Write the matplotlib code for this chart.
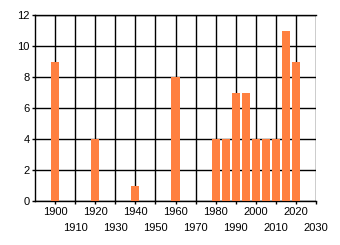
import matplotlib
matplotlib.use("Agg")
import matplotlib.pyplot as plt
from matplotlib.ticker import FixedLocator, FixedFormatter

years = [1900, 1920, 1940, 1960, 1980, 1985, 1990, 1995, 2000, 2005, 2010, 2015, 2020]
counts = [9, 4, 1, 8, 4, 4, 7, 7, 4, 4, 4, 11, 9]
major_ticks = [1900, 1920, 1940, 1960, 1980, 2000, 2020]
minor_ticks = [1910, 1930, 1950, 1970, 1990, 2010, 2030]
y_ticks = [0, 2, 4, 6, 8, 10, 12]

plt.rcParams['font.family'] = ['Liberation Sans', 'DejaVu Sans']

fig = plt.figure(figsize=(3.4, 2.45), dpi=100)
W, H = 340, 245
ax = fig.add_axes([35 / W, (H - 201) / H, 281 / W, 186 / H])

ax.bar(years, counts, width=4, color='#FF8040', zorder=3)

ax.set_xlim(1890, 2030)
ax.set_ylim(0, 12)
ax.set_axisbelow(True)

ax.xaxis.set_major_locator(FixedLocator(major_ticks))
ax.xaxis.set_major_formatter(FixedFormatter([str(v) for v in major_ticks]))
ax.xaxis.set_minor_locator(FixedLocator(minor_ticks))
ax.xaxis.set_minor_formatter(FixedFormatter([str(v) for v in minor_ticks]))
ax.set_yticks(y_ticks)
ax.set_yticklabels([str(v) for v in y_ticks])

ax.tick_params(axis='x', which='major', length=2.5, width=1, pad=2, labelsize=8, color='black')
ax.tick_params(axis='x', which='minor', length=2.5, width=1, pad=13.5, labelsize=8, color='black')
ax.tick_params(axis='y', length=2.5, width=1, pad=1.5, labelsize=8, color='black')

ax.grid(True, which='both', axis='x', color='black', linewidth=1)
ax.grid(True, which='major', axis='y', color='black', linewidth=1)

for s in ['left', 'bottom', 'top']:
    ax.spines[s].set_linewidth(1)
    ax.spines[s].set_color('black')
ax.spines['right'].set_visible(False)

fig.savefig('out.png', dpi=100)
